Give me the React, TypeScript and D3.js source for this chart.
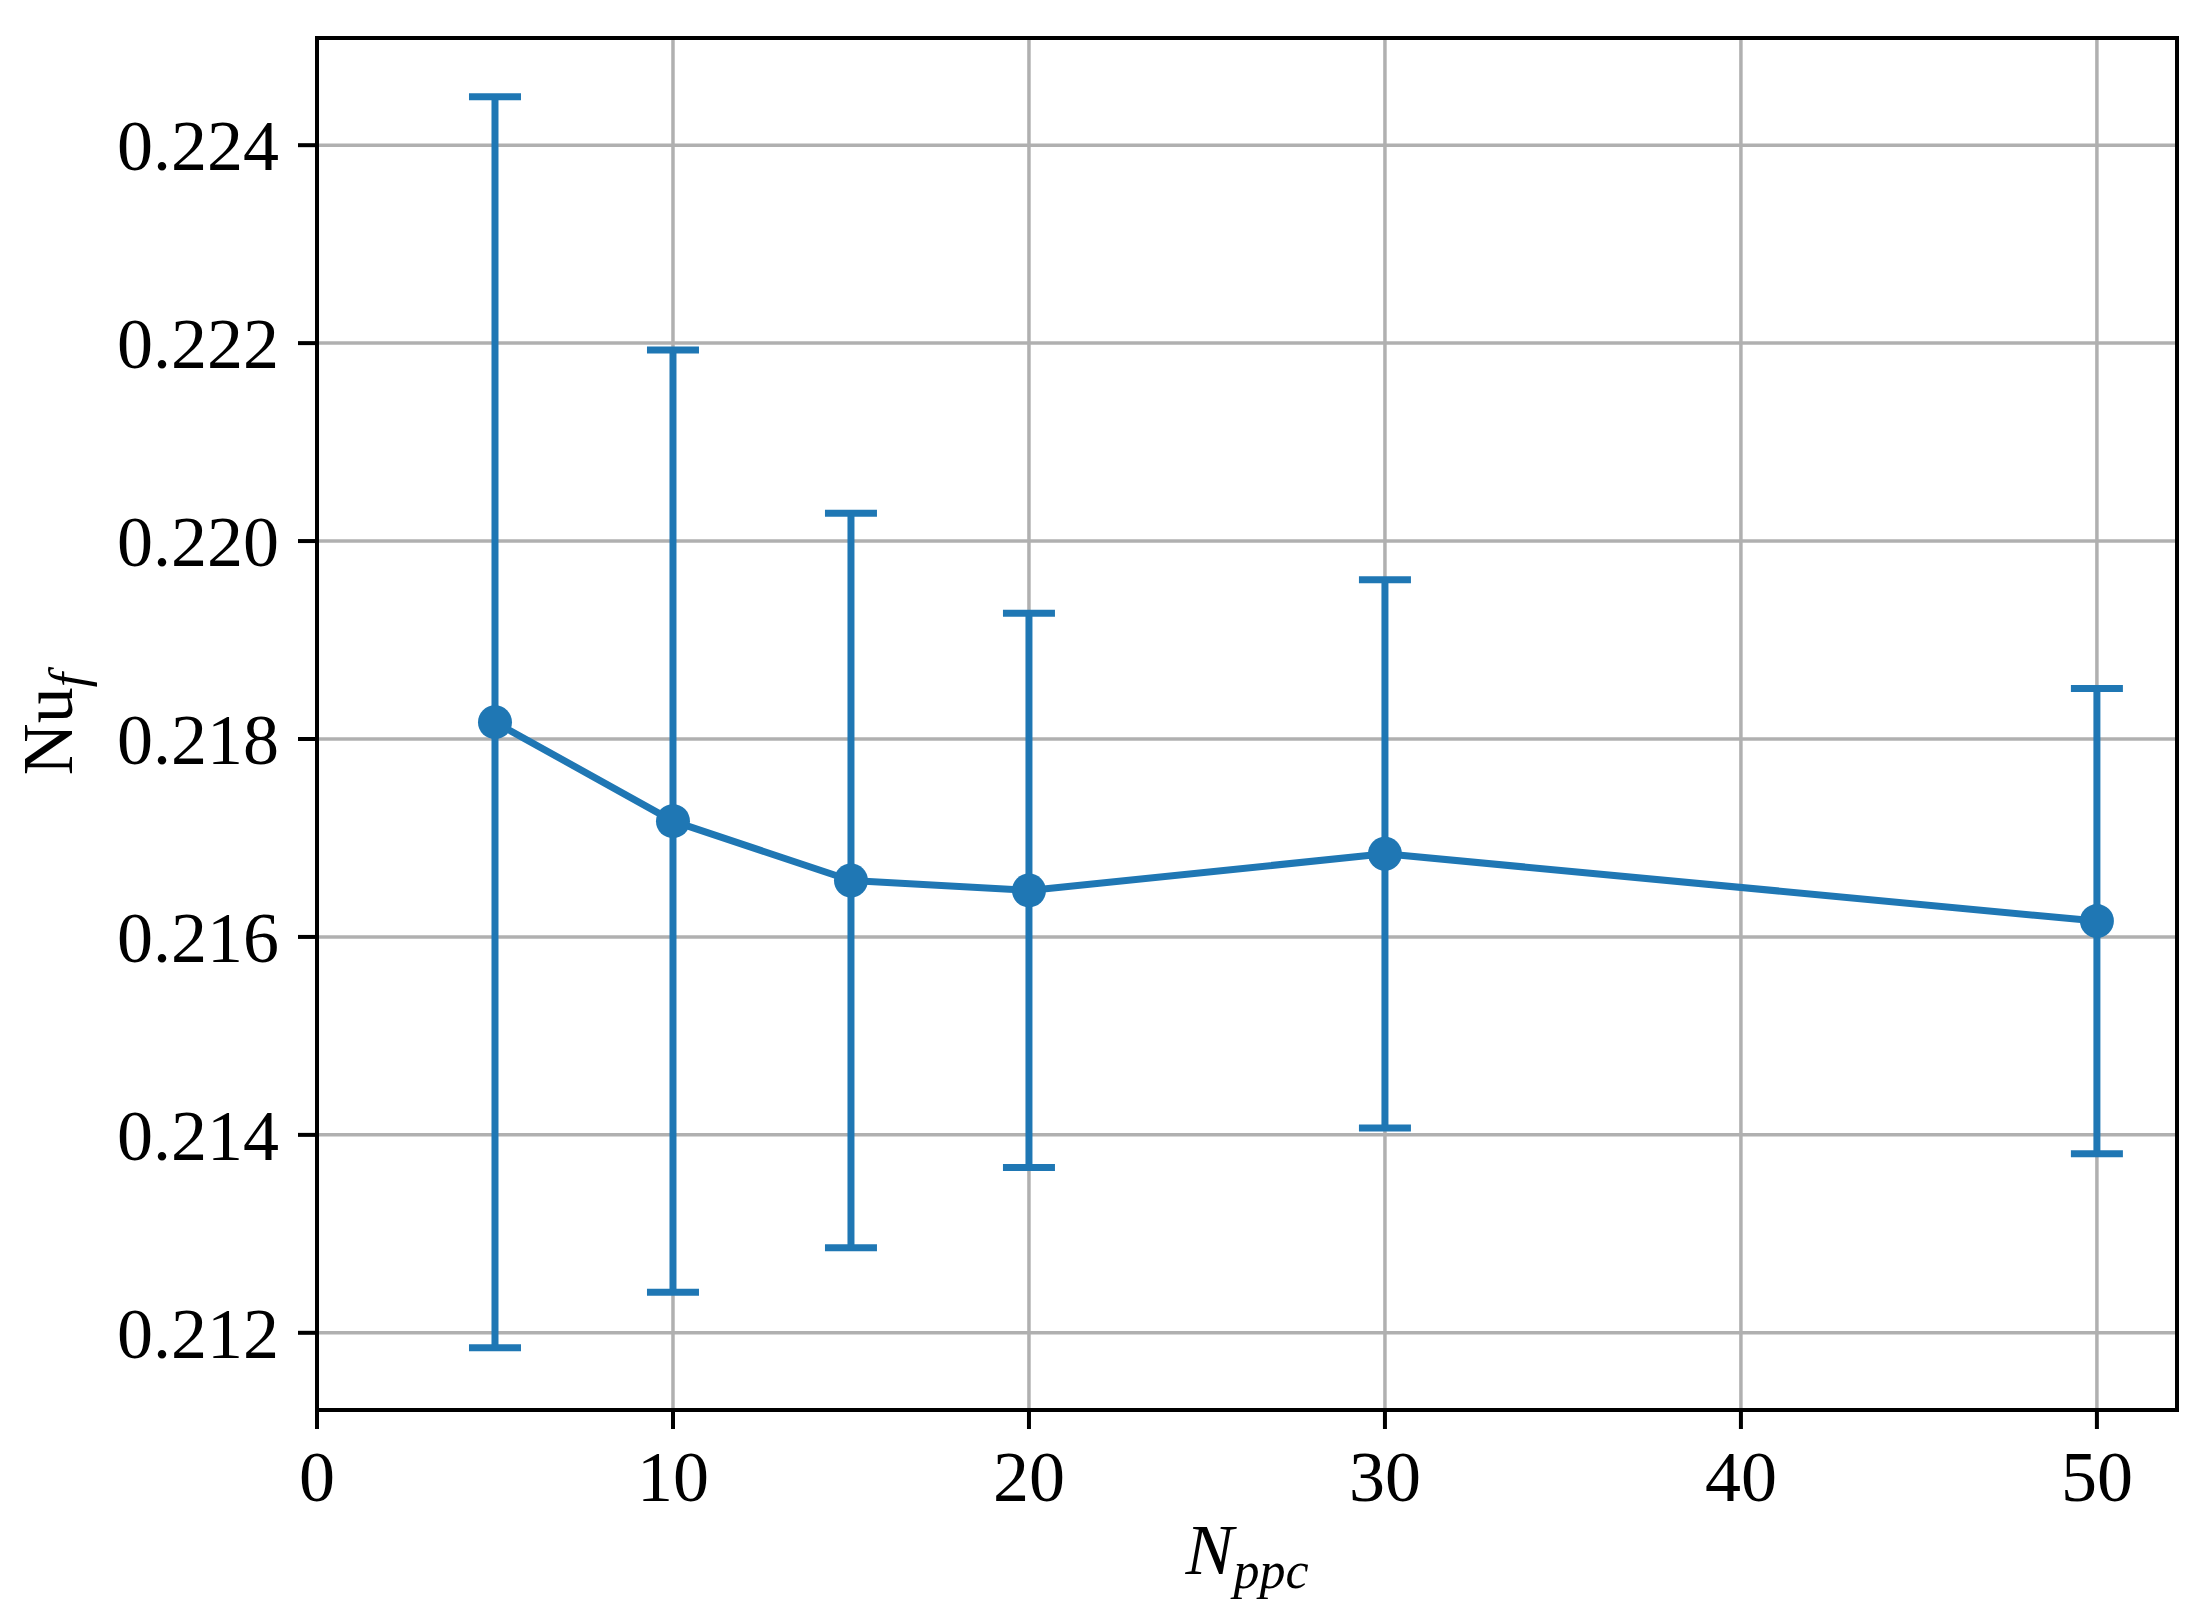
import React from "react";
import * as d3 from "d3";

const nppc = [5, 10, 15, 20, 30, 50];
const nuMean = [0.21817, 0.21717, 0.21657, 0.21647, 0.21684, 0.21616];
const nuErr = [0.00632, 0.00476, 0.00371, 0.0028, 0.00277, 0.00235];
const xTicks = [0, 10, 20, 30, 40, 50];
const yTicks = [0.212, 0.214, 0.216, 0.218, 0.22, 0.222, 0.224];

const W = 2209;
const H = 1622;
const left = 317;
const right = 2177;
const top = 38;
const bottom = 1410;

export default function App() {
  const x = d3.scaleLinear().domain([0, 52.25]).range([left, right]);
  const y = d3.scaleLinear().domain([0.21122, 0.225083]).range([bottom, top]);
  const color = "#1f77b4";
  const font = "'Liberation Serif', 'DejaVu Serif', serif";
  const fs = 72;
  const line = d3
    .line<number>()
    .x((_, i) => x(nppc[i]))
    .y((d) => y(d));
  const capHalf = 26;
  return (
    <div style={{ position: "absolute", left: 0, top: 0 }}>
      <svg width={W} height={H} style={{ display: "block", background: "#fff" }}>
        <rect x={0} y={0} width={W} height={H} fill="#fff" />
        {xTicks.map((t) => (
          <line key={"gx" + t} x1={x(t)} x2={x(t)} y1={top} y2={bottom} stroke="#b0b0b0" strokeWidth={3.5} />
        ))}
        {yTicks.map((t) => (
          <line key={"gy" + t} x1={left} x2={right} y1={y(t)} y2={y(t)} stroke="#b0b0b0" strokeWidth={3.5} />
        ))}
        {nppc.map((n, i) => {
          const cx = x(n);
          const y1 = y(nuMean[i] + nuErr[i]);
          const y2 = y(nuMean[i] - nuErr[i]);
          return (
            <g key={"e" + n} stroke={color} strokeWidth={7}>
              <line x1={cx} x2={cx} y1={y1} y2={y2} />
              <line x1={cx - capHalf} x2={cx + capHalf} y1={y1} y2={y1} />
              <line x1={cx - capHalf} x2={cx + capHalf} y1={y2} y2={y2} />
            </g>
          );
        })}
        <path d={line(nuMean) || ""} fill="none" stroke={color} strokeWidth={7} strokeLinejoin="round" />
        {nppc.map((n, i) => (
          <circle key={"m" + n} cx={x(n)} cy={y(nuMean[i])} r={17} fill={color} />
        ))}
        <rect x={left} y={top} width={right - left} height={bottom - top} fill="none" stroke="#000" strokeWidth={4} />
        {xTicks.map((t) => (
          <g key={"tx" + t}>
            <line x1={x(t)} x2={x(t)} y1={bottom} y2={bottom + 19} stroke="#000" strokeWidth={4} />
            <text x={x(t)} y={1501} textAnchor="middle" fontFamily={font} fontSize={fs} fill="#000">
              {t}
            </text>
          </g>
        ))}
        {yTicks.map((t) => (
          <g key={"ty" + t}>
            <line x1={left - 19} x2={left} y1={y(t)} y2={y(t)} stroke="#000" strokeWidth={4} />
            <text x={279} y={y(t)} dy="0.35em" textAnchor="end" fontFamily={font} fontSize={fs} fill="#000">
              {d3.format(".3f")(t)}
            </text>
          </g>
        ))}
        <text x={1247} y={1574} textAnchor="middle" fontFamily={font} fontSize={fs} fill="#000">
          <tspan fontStyle="italic">N</tspan>
          <tspan fontStyle="italic" fontSize={52} dy={14}>ppc</tspan>
        </text>
        <text
          transform={`translate(72, ${(top + bottom) / 2}) rotate(-90)`}
          textAnchor="middle"
          fontFamily={font}
          fontSize={fs}
          fill="#000"
        >
          <tspan>Nu</tspan>
          <tspan fontStyle="italic" fontSize={52} dy={14}>f</tspan>
        </text>
      </svg>
    </div>
  );
}
